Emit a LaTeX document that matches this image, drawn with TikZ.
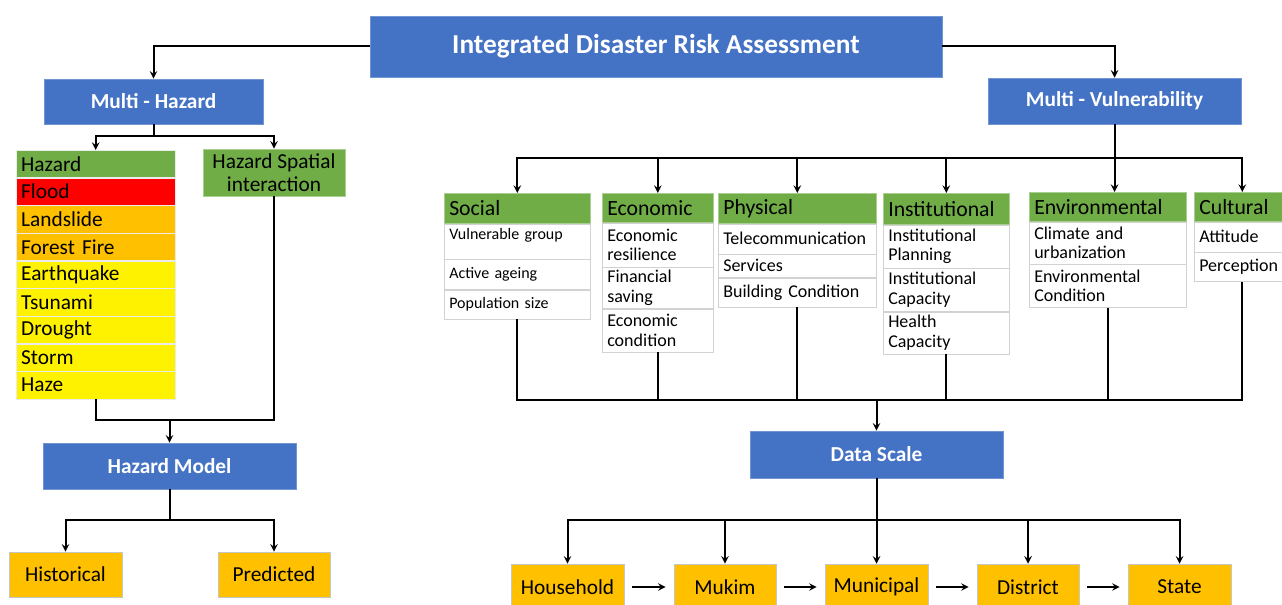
\documentclass[tikz,border=0pt]{standalone}
\usepackage{fontspec}
\setmainfont{Carlito}
\usepackage{tikz}
\usetikzlibrary{calc, positioning, arrows}
\hyphenpenalty=10000
\definecolor{ppblue}{HTML}{4472C4}
\definecolor{ppgreen}{HTML}{70AD47}
\definecolor{ppgold}{HTML}{FFC000}
\tikzstyle{bluebox}   = [rectangle, draw=ppblue!75!white, fill=ppblue, text=white, align=center, font=\fontsize{16}{19}\selectfont\bfseries]
\tikzstyle{greenbox}  = [rectangle, draw=ppgreen!60!white, fill=ppgreen, align=center, inner sep=1pt, font=\fontsize{16}{17}\selectfont]
\tikzstyle{greenhead} = [rectangle, draw=ppgreen!60!white, fill=ppgreen, anchor=north west, align=left, inner xsep=3.75pt, inner ysep=1pt, font=\fontsize{16.3}{19}\selectfont]
\tikzstyle{cell}      = [rectangle, draw=gray!35, fill=white, align=left, inner xsep=3.75pt, inner ysep=1.5pt, font=\fontsize{13.5}{14.5}\selectfont]
\tikzstyle{hzrow}     = [rectangle, draw=white!92!black, line width=0.3pt, align=left, text width=111.75pt, minimum height=20.45pt, inner xsep=3.75pt, inner ysep=1pt, font=\fontsize{16}{19}\selectfont]
\tikzstyle{goldbox}   = [rectangle, draw=gray!45, fill=ppgold, align=center, font=\fontsize{16}{19}\selectfont]
\tikzstyle{link}      = [line width=1.5pt]
\tikzstyle{arrow}     = [line width=1.5pt,->,>=stealth]

\begin{document}
\begin{tikzpicture}[x=0.75pt, y=-0.75pt]
      \useasboundingbox (0,0) rectangle (1282,605);
      \clip (0,0) rectangle (1282,605);

      \node (IDRA) [bluebox, minimum width=429pt, minimum height=45.75pt, font=\fontsize{20.5}{24}\selectfont\bfseries] at (656,46.5) {Integrated Disaster Risk Assessment};
      \node (MH)   [bluebox, minimum width=164.25pt, minimum height=33.75pt] at (153.5,101.5) {Multi - Hazard};
      \node (MV)   [bluebox, minimum width=189.75pt, minimum height=34.5pt] at (1114.5,101) {Multi - Vulnerability};

      \node (H0) [hzrow, fill=ppgreen, anchor=north west] at (16,150) {Hazard};
      \node (H1) [hzrow, fill=red, below=0pt of H0]    {Flood};
      \node (H2) [hzrow, fill=ppgold, below=0pt of H1] {Landslide};
      \node (H3) [hzrow, fill=ppgold, below=0pt of H2] {Forest Fire};
      \node (H4) [hzrow, fill=yellow, below=0pt of H3] {Earthquake};
      \node (H5) [hzrow, fill=yellow, below=0pt of H4] {Tsunami};
      \node (H6) [hzrow, fill=yellow, below=0pt of H5] {Drought};
      \node (H7) [hzrow, fill=yellow, below=0pt of H6] {Storm};
      \node (H8) [hzrow, fill=yellow, below=0pt of H7] {Haze};

      \node (HSI) [greenbox, minimum width=106.5pt, minimum height=35.25pt] at (274,172.5) {Hazard Spatial\\interaction};

      \node (HM)  [bluebox, minimum width=189.75pt, minimum height=34.5pt] at (169.5,466) {Hazard Model};
      \node (HIS) [goldbox, minimum width=84.75pt, minimum height=33.75pt] at (65.5,574.5) {Historical};
      \node (PRE) [goldbox, minimum width=84pt, minimum height=33.75pt] at (274,574.5) {Predicted};

      \node (S0) [greenhead, text width=102pt, minimum height=22.5pt] at (444,193) {Social};
      \node (S1) [cell, text width=102pt, font=\fontsize{12}{13}\selectfont, text height=10.5pt, text depth=12.75pt, below=0pt of S0] {Vulnerable group};
      \node (S2) [cell, text width=102pt, font=\fontsize{12}{13}\selectfont, minimum height=22.5pt, below=0pt of S1] {Active ageing};
      \node (S3) [cell, text width=102pt, font=\fontsize{12}{13}\selectfont, minimum height=21.75pt, below=0pt of S2] {Population size};

      \node (E0) [greenhead, text width=75.75pt, minimum height=21.75pt] at (602,193) {Economic};
      \node (E1) [cell, text width=75.75pt, minimum height=33pt, below=0pt of E0]    {Economic\\resilience};
      \node (E2) [cell, text width=75.75pt, minimum height=30.75pt, below=0pt of E1] {Financial\\saving};
      \node (E3) [cell, text width=75.75pt, minimum height=32.25pt, below=0pt of E2] {Economic\\condition};

      \node (P0) [greenhead, text width=111pt, minimum height=22.5pt] at (718,193) {Physical};
      \node (P1) [cell, text width=111pt, minimum height=22.5pt, below=0pt of P0]  {Telecommunication};
      \node (P2) [cell, text width=111pt, minimum height=17.25pt, below=0pt of P1] {Services};
      \node (P3) [cell, text width=111pt, minimum height=21.75pt, below=0pt of P2] {Building Condition};

      \node (I0) [greenhead, text width=87pt, minimum height=23.25pt] at (883,193) {Institutional};
      \node (I1) [cell, text width=87pt, minimum height=32.25pt, below=0pt of I0] {Institutional\\Planning};
      \node (I2) [cell, text width=87pt, minimum height=32.25pt, below=0pt of I1] {Institutional\\Capacity};
      \node (I3) [cell, text width=87pt, minimum height=31.5pt, below=0pt of I2]  {Health\\Capacity};

      \node (N0) [greenhead, text width=110.25pt, minimum height=21.75pt] at (1029,192) {Environmental};
      \node (N1) [cell, text width=110.25pt, minimum height=31.5pt, below=0pt of N0]  {Climate and\\urbanization};
      \node (N2) [cell, text width=110.25pt, minimum height=32.25pt, below=0pt of N1] {Environmental\\Condition};

      \node (C0) [greenhead, text width=64.5pt, minimum height=21.75pt] at (1194,192) {Cultural};
      \node (C1) [cell, text width=64.5pt, minimum height=22.5pt, below=0pt of C0]  {Attitude};
      \node (C2) [cell, text width=64.5pt, minimum height=21.75pt, below=0pt of C1] {Perception};

      \node (DS) [bluebox, minimum width=189.75pt, minimum height=35.25pt] at (876.5,454.5) {Data Scale};

      \node (HH) [goldbox, minimum width=84.75pt, minimum height=34.5pt] at (567.5,587) {Household};
      \node (MK) [goldbox, minimum width=76.5pt, minimum height=34.5pt]  at (725,587)   {Mukim};
      \node (MU) [goldbox, minimum width=77.25pt, minimum height=34.5pt] at (876.5,587) {Municipal};
      \node (DI) [goldbox, minimum width=76.5pt, minimum height=34.5pt]  at (1028,587)  {District};
      \node (ST) [goldbox, minimum width=77.25pt, minimum height=34.5pt] at (1179.5,587) {State};

      \coordinate (hb) at ($(MH.south)+(0,12)$);
      \coordinate (hj) at ($(HM.north)+(0,-23)$);
      \coordinate (mb) at ($(HM.south)+(0,31)$);
      \coordinate (vb) at ($(MV.south)+(0,34)$);
      \coordinate (vj) at ($(DS.north)+(0,-31)$);
      \coordinate (db) at ($(DS.south)+(0,42)$);

      \draw [arrow] (IDRA.west) -| (MH.north);
      \draw [arrow] (IDRA.east) -| (MV.north);

      \draw [link]  (MH.south) -- (hb);
      \draw [arrow] (hb) -| (H0.north);
      \draw [arrow] (hb) -| (HSI.north);

      \draw [link]  (H8.south) |- (hj);
      \draw [link]  (HSI.south) |- (hj);
      \draw [arrow] (hj) -- (HM.north);

      \draw [link]  (HM.south) -- (mb);
      \draw [arrow] (mb) -| (HIS.north);
      \draw [arrow] (mb) -| (PRE.north);

      \draw [link]  (MV.south) -- (vb);
      \draw [arrow] (vb) -| (S0.north);
      \draw [arrow] (vb) -| (E0.north);
      \draw [arrow] (vb) -| (P0.north);
      \draw [arrow] (vb) -| (I0.north);
      \draw [arrow] (vb) -- (vb |- N0.north);
      \draw [arrow] (vb) -| (C0.north);

      \draw [link]  (S3.south) |- (vj);
      \draw [link]  (E3.south) |- (vj);
      \draw [link]  (P3.south) |- (vj);
      \draw [link]  (I3.south) |- (vj);
      \draw [link]  (N2.south) |- (vj);
      \draw [link]  (C2.south) |- (vj);
      \draw [arrow] (vj) -- (DS.north);

      \draw [link]  (DS.south) -- (db);
      \draw [arrow] (db) -| (HH.north);
      \draw [arrow] (db) -| (MK.north);
      \draw [arrow] (db) -- (MU.north);
      \draw [arrow] (db) -| (DI.north);
      \draw [arrow] (db) -| (ST.north);

      \draw [arrow, shorten <=6pt, shorten >=6pt] (HH) -- (MK);
      \draw [arrow, shorten <=6pt, shorten >=6pt] (MK) -- (MU);
      \draw [arrow, shorten <=6pt, shorten >=6pt] (MU) -- (DI);
      \draw [arrow, shorten <=6pt, shorten >=6pt] (DI) -- (ST);

    \end{tikzpicture}
\end{document}
